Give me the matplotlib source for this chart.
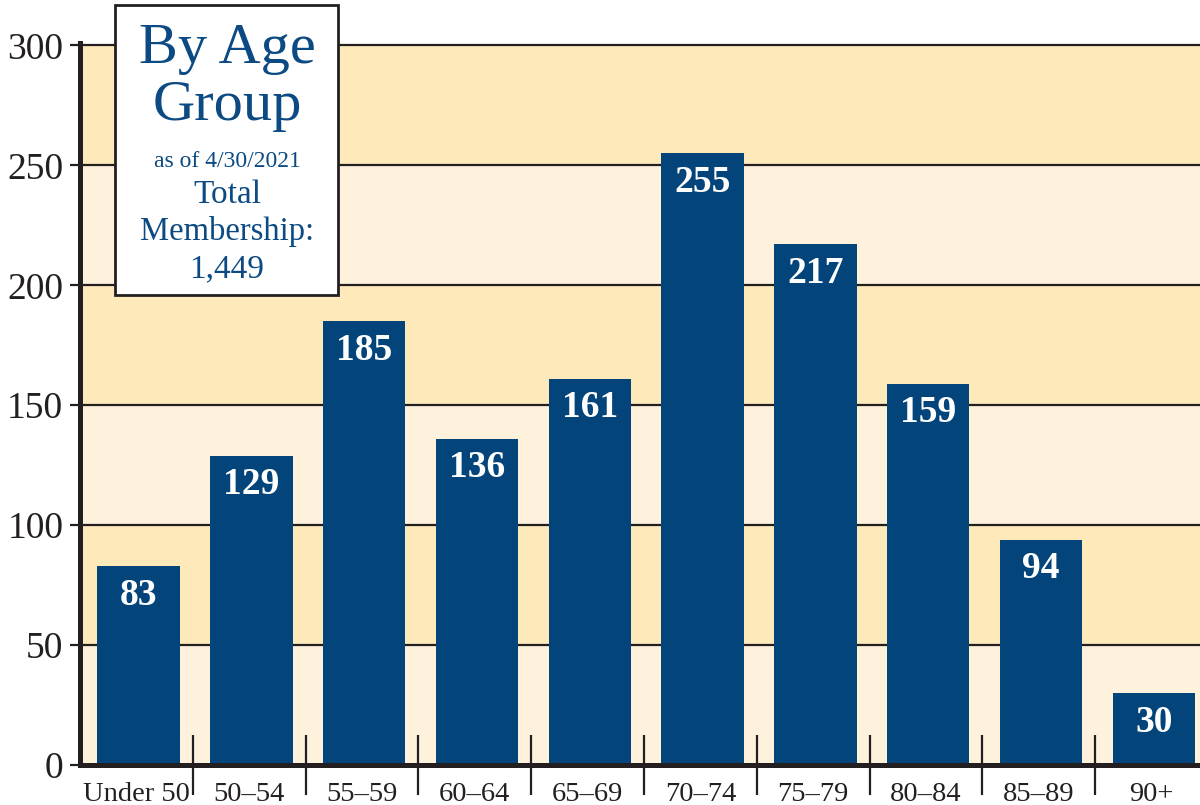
import numpy as np
import matplotlib.pyplot as plt
from matplotlib.patches import Rectangle

age_groups = ["Under 50", "50\u201354", "55\u201359", "60\u201364", "65\u201369",
              "70\u201374", "75\u201379", "80\u201384", "85\u201389", "90+"]
members = [83, 129, 185, 136, 161, 255, 217, 159, 94, 30]
y_ticks = [0, 50, 100, 150, 200, 250, 300]

box_lines = [("By Age", 42), ("Group", 42), ("as of 4/30/2021", 17),
             ("Total", 24), ("Membership:", 23.5), ("1,449", 24)]
box_baselines = [63, 120, 167, 203, 240, 277]  # pixel rows from top

navy = "#03447A"
ink = "#231F20"
band_dark = "#FEE9BA"
band_light = "#FEF2DC"

plt.rcParams['font.family'] = ['Liberation Serif', 'DejaVu Serif']

fig = plt.figure(figsize=(12, 8.05), dpi=100)
ax = fig.add_axes([80/1200, 40/805, 1 - 80/1200, 722/805])

x = np.arange(len(age_groups))

# alternating background bands
for i in range(len(y_ticks) - 1):
    c = band_light if i % 2 == 0 else band_dark
    ax.axhspan(y_ticks[i], y_ticks[i + 1], color=c, zorder=0, lw=0)

bars = ax.bar(x + 0.02, members, width=0.73, color=navy, zorder=3)
for b, v in zip(bars, members):
    ax.annotate(str(v), (b.get_x() + b.get_width() / 2, v), xytext=(0, -21),
                textcoords="offset points", ha="center", va="center",
                color="white", fontsize=27, fontweight="bold", zorder=4)

ax.set_xlim(-0.5, 9.43)
ax.set_ylim(0, 301)
ax.set_yticks(y_ticks)
ax.set_yticklabels([str(t) for t in y_ticks], fontsize=27, color=ink)
ax.set_xticks(x)
ax.set_xticklabels(age_groups, fontsize=20.5, color=ink)
ax.set_xticks(np.arange(0.5, 9, 1), minor=True)
ax.tick_params(axis="x", which="major", length=0, pad=12)
ax.tick_params(axis="x", which="minor", direction="inout", length=43,
               width=1.6, color=ink)
ax.tick_params(axis="y", length=7, width=1.6, color=ink, pad=5)

ax.grid(axis="y", color=ink, lw=1.6, zorder=1)
ax.set_axisbelow(True)
for s in ["top", "right"]:
    ax.spines[s].set_visible(False)
for s in ["left", "bottom"]:
    ax.spines[s].set_linewidth(3.6)
    ax.spines[s].set_color(ink)
    ax.spines[s].set_zorder(5)

# title box
fig.add_artist(Rectangle((115/1200, 1 - 295/805), 223/1200, 290/805,
                         transform=fig.transFigure, fc="white", ec=ink, lw=2))
for (txt, fs), yb in zip(box_lines, box_baselines):
    fig.text(227/1200, 1 - yb/805, txt, ha="center", va="baseline",
             fontsize=fs, color="#0B4A82")

fig.savefig("out.png", dpi=100)
